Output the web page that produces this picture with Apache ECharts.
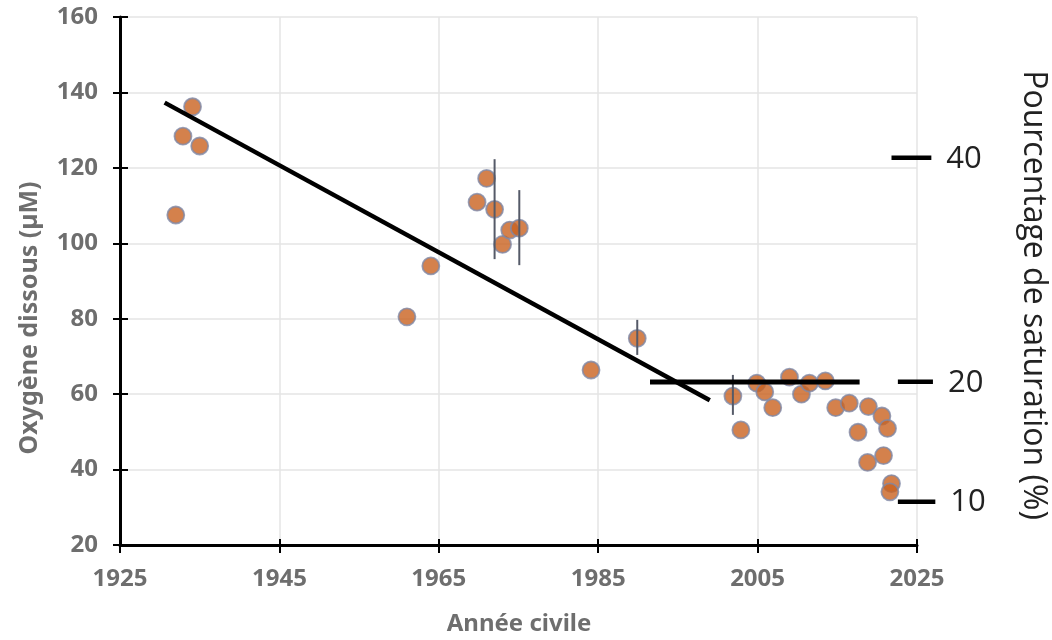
<!DOCTYPE html>
<html>
<head>
<meta charset="utf-8">
<script src="https://cdn.jsdelivr.net/npm/echarts@6/dist/echarts.min.js"></script>
<style>
  html, body { margin: 0; padding: 0; background: #fff; }
  #chart { width: 1052px; height: 640px; }
</style>
</head>
<body>
<div id="chart"></div>
<script>
// --- data ---
const X_MIN = 1925;
const YEARS = [1932.0, 1932.9, 1934.1, 1935.0, 1961.0, 1964.0, 1969.8, 1971.0, 1972.0, 1973.0,
  1973.9, 1975.1, 1984.1, 1989.9, 2001.9, 2002.9, 2004.9, 2005.9, 2006.9, 2009.0,
  2010.5, 2011.5, 2013.5, 2014.8, 2016.5, 2017.6, 2018.9, 2018.8, 2020.6, 2021.3,
  2020.8, 2021.8, 2021.6];
const O2 = [107.5, 128.4, 136.2, 125.8, 80.5, 94.0, 110.9, 117.2, 109.0, 99.7,
  103.5, 104.0, 66.4, 74.8, 59.5, 50.5, 62.9, 60.6, 56.4, 64.5,
  60.0, 62.9, 63.5, 56.4, 57.6, 49.9, 56.7, 41.9, 54.2, 50.9,
  43.7, 36.3, 34.1];

// error bars
const ERR_YEARS = [1972.0, 1975.1, 1989.9, 2001.9];
const ERR_LOW = [95.8, 94.2, 70.4, 54.5];
const ERR_HIGH = [122.3, 114.1, 79.7, 65.1];

// trend line and plateau
const TREND_YEARS = [1930.6, 1999.0];
const TREND_O2 = [137.3, 58.4];
const PLATEAU_YEARS = [1991.5, 2017.8];
const PLATEAU_O2 = [63.2, 63.2];

// saturation scale (right side)
const SAT_LABELS = ['40', '20', '10'];
const SAT_O2 = [122.7, 63.3, 31.5];
const SAT_START = [2021.8, 2022.6, 2022.6];
const SAT_END = [2026.8, 2027.0, 2027.3];

const x = y => y - X_MIN;

const chart = echarts.init(document.getElementById('chart'), null, { renderer: 'canvas' });

const series = [];

series.push({
  type: 'scatter',
  data: YEARS.map((yr, i) => [x(yr), O2[i]]),
  symbol: 'circle',
  symbolSize: 17,
  itemStyle: { color: '#c9621f', borderColor: '#8088a6', borderWidth: 1.8 },
  z: 2,
});

series.push({
  type: 'custom',
  data: ERR_YEARS.map((yr, i) => [x(yr), ERR_LOW[i], ERR_HIGH[i]]),
  encode: { x: 0, y: [1, 2] },
  renderItem: (params, api) => {
    const lo = api.coord([api.value(0), api.value(1)]);
    const hi = api.coord([api.value(0), api.value(2)]);
    return {
      type: 'line',
      shape: { x1: lo[0], y1: lo[1], x2: hi[0], y2: hi[1] },
      style: { stroke: '#555a68', lineWidth: 2 },
    };
  },
  z: 3,
});

series.push({
  type: 'line',
  data: TREND_YEARS.map((yr, i) => [x(yr), TREND_O2[i]]),
  symbol: 'none',
  lineStyle: { color: '#000', width: 4.5 },
  z: 4,
});

series.push({
  type: 'line',
  data: PLATEAU_YEARS.map((yr, i) => [x(yr), PLATEAU_O2[i]]),
  symbol: 'none',
  lineStyle: { color: '#000', width: 5 },
  z: 4,
});

// short black marks of the saturation scale, past the plot edge (custom = not clipped)
series.push({
  type: 'custom',
  data: SAT_LABELS.map((lab, i) => [x(SAT_START[i]), x(SAT_END[i]), SAT_O2[i]]),
  encode: { x: [0, 1], y: 2 },
  clip: false,
  renderItem: (params, api) => {
    const a = api.coord([api.value(0), api.value(2)]);
    const b = api.coord([api.value(1), api.value(2)]);
    return {
      type: 'group',
      children: [
        {
          type: 'line',
          shape: { x1: a[0], y1: a[1], x2: b[0], y2: b[1] },
          style: { stroke: '#000', lineWidth: 4.5 },
        },
        {
          type: 'text',
          x: b[0] + 15, y: b[1] + 1,
          style: {
            text: SAT_LABELS[params.dataIndex], fill: '#222',
            font: '31px "Open Sans"', align: 'left', verticalAlign: 'middle',
          },
        },
      ],
    };
  },
  z: 4,
});

chart.setOption({
  animation: false,
  backgroundColor: '#fff',
  grid: { left: 120, right: 135, top: 17, bottom: 95 },
  xAxis: [
    {
      type: 'value',
      min: 0, max: 100, interval: 20,
      axisLine: { lineStyle: { color: '#000', width: 3 } },
      axisTick: { show: true, length: 8, lineStyle: { color: '#000', width: 2 } },
      axisLabel: {
        formatter: v => String(v + X_MIN),
        color: '#6e6e6e', fontSize: 24, fontWeight: 'bold',
        fontFamily: 'Noto Sans', margin: 22,
      },
      splitLine: { show: true, lineStyle: { color: '#e4e4e4', width: 1.5 } },
    },
    {
      // inner half of the crossing ticks
      type: 'value', position: 'bottom',
      min: 0, max: 100, interval: 20,
      axisLine: { show: false },
      axisTick: { show: true, inside: true, length: 6, lineStyle: { color: '#000', width: 2 } },
      axisLabel: { show: false },
      splitLine: { show: false },
    },
  ],
  yAxis: [
    {
      type: 'value',
      min: 20, max: 160, interval: 20,
      axisLine: { show: true, lineStyle: { color: '#000', width: 3 } },
      axisTick: { show: true, length: 7, lineStyle: { color: '#000', width: 2 } },
      axisLabel: {
        color: '#6e6e6e', fontSize: 24, fontWeight: 'bold',
        fontFamily: 'Noto Sans', margin: 22,
      },
      splitLine: { show: true, lineStyle: { color: '#e4e4e4', width: 1.5 } },
    },
    {
      type: 'value', position: 'left',
      min: 20, max: 160, interval: 20,
      axisLine: { show: false },
      axisTick: { show: true, inside: true, length: 8, lineStyle: { color: '#000', width: 2 } },
      axisLabel: { show: false },
      splitLine: { show: false },
    },
  ],
  graphic: [
    {
      type: 'text', x: 30, y: 318, rotation: Math.PI / 2,
      style: {
        text: 'Oxygène dissous (µM)', fill: '#6e6e6e',
        font: 'bold 25px "Noto Sans"', align: 'center', verticalAlign: 'middle',
      },
    },
    {
      type: 'text', x: 519, y: 624,
      style: {
        text: 'Année civile', fill: '#6e6e6e',
        font: 'bold 24px "Noto Sans"', align: 'center', verticalAlign: 'middle',
      },
    },
    {
      type: 'text', x: 1033, y: 295, rotation: -Math.PI / 2,
      style: {
        text: 'Pourcentage de saturation (%)', fill: '#222',
        font: '32px "Open Sans"', align: 'center', verticalAlign: 'middle',
      },
    },
  ],
  series,
});
</script>
</body>
</html>
